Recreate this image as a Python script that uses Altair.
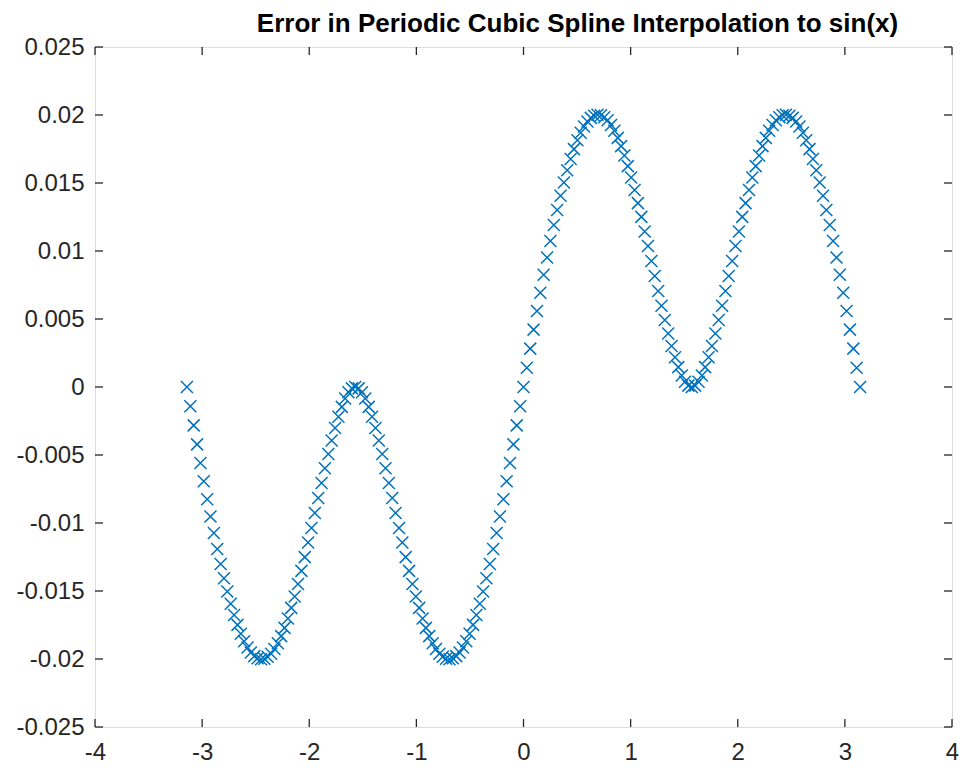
import altair as alt
import pandas as pd

TITLE = "Error in Periodic Cubic Spline Interpolation to sin(x)"

X_VALUES = [
    -3.142, -3.110, -3.079, -3.047, -3.016, -2.985, -2.953, -2.922, -2.890, -2.859,
    -2.827, -2.796, -2.765, -2.733, -2.702, -2.670, -2.639, -2.608, -2.576, -2.545,
    -2.513, -2.482, -2.450, -2.419, -2.388, -2.356, -2.325, -2.293, -2.262, -2.231,
    -2.199, -2.168, -2.136, -2.105, -2.073, -2.042, -2.011, -1.979, -1.948, -1.916,
    -1.885, -1.854, -1.822, -1.791, -1.759, -1.728, -1.696, -1.665, -1.634, -1.602,
    -1.571, -1.539, -1.508, -1.477, -1.445, -1.414, -1.382, -1.351, -1.319, -1.288,
    -1.257, -1.225, -1.194, -1.162, -1.131, -1.100, -1.068, -1.037, -1.005, -0.974,
    -0.942, -0.911, -0.880, -0.848, -0.817, -0.785, -0.754, -0.723, -0.691, -0.660,
    -0.628, -0.597, -0.565, -0.534, -0.503, -0.471, -0.440, -0.408, -0.377, -0.346,
    -0.314, -0.283, -0.251, -0.220, -0.188, -0.157, -0.126, -0.094, -0.063, -0.031,
    0.000,
    0.031, 0.063, 0.094, 0.126, 0.157, 0.188, 0.220, 0.251, 0.283, 0.314,
    0.346, 0.377, 0.408, 0.440, 0.471, 0.503, 0.534, 0.565, 0.597, 0.628,
    0.660, 0.691, 0.723, 0.754, 0.785, 0.817, 0.848, 0.880, 0.911, 0.942,
    0.974, 1.005, 1.037, 1.068, 1.100, 1.131, 1.162, 1.194, 1.225, 1.257,
    1.288, 1.319, 1.351, 1.382, 1.414, 1.445, 1.477, 1.508, 1.539, 1.571,
    1.602, 1.634, 1.665, 1.696, 1.728, 1.759, 1.791, 1.822, 1.854, 1.885,
    1.916, 1.948, 1.979, 2.011, 2.042, 2.073, 2.105, 2.136, 2.168, 2.199,
    2.231, 2.262, 2.293, 2.325, 2.356, 2.388, 2.419, 2.450, 2.482, 2.513,
    2.545, 2.576, 2.608, 2.639, 2.670, 2.702, 2.733, 2.765, 2.796, 2.827,
    2.859, 2.890, 2.922, 2.953, 2.985, 3.016, 3.047, 3.079, 3.110, 3.142,
]

ERROR_VALUES = [
    0.0, -0.00141, -0.00282, -0.00422, -0.00559, -0.00693, -0.00825, -0.00952, -0.01074, -0.01191,
    -0.01302, -0.01406, -0.01504, -0.01594, -0.01676, -0.01749, -0.01814, -0.01869, -0.01915, -0.01952,
    -0.01979, -0.01995, -0.02002, -0.01998, -0.01984, -0.01961, -0.01927, -0.01884, -0.01832, -0.01771,
    -0.01702, -0.01624, -0.01540, -0.01449, -0.01352, -0.01251, -0.01143, -0.01037, -0.00926, -0.00816,
    -0.00706, -0.00598, -0.00493, -0.00394, -0.00302, -0.00219, -0.00146, -0.00085, -0.00039, -0.00010,
    0.0,
    -0.00010, -0.00039, -0.00085, -0.00146, -0.00219, -0.00302, -0.00394, -0.00493, -0.00598, -0.00706,
    -0.00816, -0.00926, -0.01037, -0.01143, -0.01251, -0.01352, -0.01449, -0.01540, -0.01624, -0.01702,
    -0.01771, -0.01832, -0.01884, -0.01927, -0.01961, -0.01984, -0.01998, -0.02002, -0.01995, -0.01979,
    -0.01952, -0.01915, -0.01869, -0.01814, -0.01749, -0.01676, -0.01594, -0.01504, -0.01406, -0.01302,
    -0.01191, -0.01074, -0.00952, -0.00825, -0.00693, -0.00559, -0.00422, -0.00282, -0.00141, 0.0,
    0.00141, 0.00282, 0.00422, 0.00559, 0.00693, 0.00825, 0.00952, 0.01074, 0.01191, 0.01302,
    0.01406, 0.01504, 0.01594, 0.01676, 0.01749, 0.01814, 0.01869, 0.01915, 0.01952, 0.01979,
    0.01995, 0.02002, 0.01998, 0.01984, 0.01961, 0.01927, 0.01884, 0.01832, 0.01771, 0.01702,
    0.01624, 0.01540, 0.01449, 0.01352, 0.01251, 0.01143, 0.01037, 0.00926, 0.00816, 0.00706,
    0.00598, 0.00493, 0.00394, 0.00302, 0.00219, 0.00146, 0.00085, 0.00039, 0.00010, 0.0,
    0.00010, 0.00039, 0.00085, 0.00146, 0.00219, 0.00302, 0.00394, 0.00493, 0.00598, 0.00706,
    0.00816, 0.00926, 0.01037, 0.01143, 0.01251, 0.01352, 0.01449, 0.01540, 0.01624, 0.01702,
    0.01771, 0.01832, 0.01884, 0.01927, 0.01961, 0.01984, 0.01998, 0.02002, 0.01995, 0.01979,
    0.01952, 0.01915, 0.01869, 0.01814, 0.01749, 0.01676, 0.01594, 0.01504, 0.01406, 0.01302,
    0.01191, 0.01074, 0.00952, 0.00825, 0.00693, 0.00559, 0.00422, 0.00282, 0.00141, 0.0,
]

X_TICKS = [-4, -3, -2, -1, 0, 1, 2, 3, 4]
Y_TICKS = [-0.025, -0.02, -0.015, -0.01, -0.005, 0, 0.005, 0.01, 0.015, 0.02, 0.025]

assert len(X_VALUES) == len(ERROR_VALUES)

W, H = 857, 680
TICK_LEN = 8
AXIS_COLOR = "#262626"
MARKER_COLOR = "#0072BD"
FONT = "Liberation Sans"

df = pd.DataFrame({"x": X_VALUES, "err": ERROR_VALUES})
xt = pd.DataFrame({"t": X_TICKS})
yt = pd.DataFrame({"t": Y_TICKS})

xscale = alt.Scale(domain=[-4, 4], nice=False, zero=False)
yscale = alt.Scale(domain=[-0.025, 0.025], nice=False, zero=False)

xaxis = alt.Axis(
    values=X_TICKS, title=None, grid=False, ticks=False, domain=False,
    labelExpr="'' + datum.value", labelFont=FONT, labelFontSize=24,
    labelColor=AXIS_COLOR, labelPadding=13, labelFlush=False,
)
yaxis = alt.Axis(
    values=Y_TICKS, title=None, grid=False, ticks=False, domain=False,
    labelExpr="datum.value == 0 ? '0' : '' + round(datum.value * 1000) / 1000",
    labelFont=FONT, labelFontSize=24, labelColor=AXIS_COLOR, labelPadding=11,
    labelFlush=False,
)

points = alt.Chart(df).mark_point(
    shape="M-1,-1L1,1M-1,1L1,-1", filled=False, size=144,
    strokeWidth=1.5, color=MARKER_COLOR, opacity=1,
).encode(
    x=alt.X("x:Q", scale=xscale, axis=xaxis),
    y=alt.Y("err:Q", scale=yscale, axis=yaxis),
)

tick_style = dict(color=AXIS_COLOR, strokeWidth=1.3)

bottom_ticks = alt.Chart(xt).mark_rule(**tick_style).encode(
    x=alt.X("t:Q", scale=xscale), y=alt.value(H), y2=alt.value(H - TICK_LEN)
)
top_ticks = alt.Chart(xt).mark_rule(**tick_style).encode(
    x=alt.X("t:Q", scale=xscale), y=alt.value(0), y2=alt.value(TICK_LEN)
)
left_ticks = alt.Chart(yt).mark_rule(**tick_style).encode(
    y=alt.Y("t:Q", scale=yscale), x=alt.value(0), x2=alt.value(TICK_LEN)
)
right_ticks = alt.Chart(yt).mark_rule(**tick_style).encode(
    y=alt.Y("t:Q", scale=yscale), x=alt.value(W), x2=alt.value(W - TICK_LEN)
)

chart = alt.layer(
    points, bottom_ticks, top_ticks, left_ticks, right_ticks
).properties(
    width=W, height=H,
    title=alt.Title(TITLE, font=FONT, fontSize=26, fontWeight="bold",
                    color="#000000", anchor="middle", offset=-2, dx=54),
    autosize=alt.AutoSizeParams(type="none"),
    padding={"left": 87, "top": 39, "right": 7, "bottom": 37},
).configure_view(
    stroke=AXIS_COLOR, strokeWidth=1.3
).configure(background="white")

chart.save("out.html", embed_options={"renderer": "svg", "actions": False})
